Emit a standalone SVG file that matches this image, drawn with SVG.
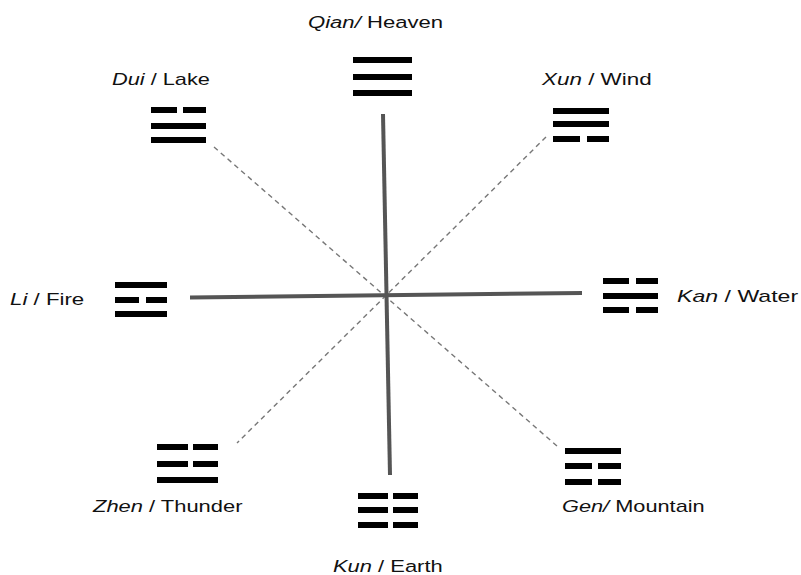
<svg xmlns="http://www.w3.org/2000/svg" width="801" height="575" viewBox="0 0 801 575">
<style>
.lbl{font-family:"Liberation Sans",Arial,sans-serif;font-size:17px;fill:#111}
.it{font-style:italic}
.bar{fill:#000}
.axis{stroke:#555;stroke-width:4;fill:none}
.diag{stroke:#777;stroke-width:1.4;stroke-dasharray:5 4;fill:none}
</style>
<rect width="801" height="575" fill="#fff"/>
<g id="connectors">
<line class="diag" x1="214" y1="147" x2="557" y2="446"/>
<line class="diag" x1="546" y1="137" x2="237" y2="443"/>
<line class="axis" x1="383" y1="114" x2="390" y2="475"/>
<line class="axis" x1="190" y1="297.5" x2="582" y2="293"/>
</g>
<g id="qian">
<text class="lbl" transform="translate(308 28) scale(1.3 1)"><tspan class="it">Qian/</tspan> Heaven</text>
<rect class="bar" x="353" y="57" width="59" height="6"/>
<rect class="bar" x="353" y="74" width="59" height="6"/>
<rect class="bar" x="353" y="90" width="59" height="6"/>
</g>
<g id="dui">
<text class="lbl" transform="translate(112 85) scale(1.28 1)"><tspan class="it">Dui</tspan> / Lake</text>
<rect class="bar" x="151" y="107" width="26" height="6"/>
<rect class="bar" x="183" y="107" width="23" height="6"/>
<rect class="bar" x="151" y="123" width="55" height="6"/>
<rect class="bar" x="151" y="137" width="55" height="6"/>
</g>
<g id="xun">
<text class="lbl" transform="translate(542 85) scale(1.32 1)"><tspan class="it">Xun</tspan> / Wind</text>
<rect class="bar" x="553" y="108" width="56" height="6"/>
<rect class="bar" x="553" y="121" width="56" height="6"/>
<rect class="bar" x="553" y="136" width="27" height="6"/>
<rect class="bar" x="587" y="136" width="22" height="6"/>
</g>
<g id="li">
<text class="lbl" transform="translate(10 305) scale(1.31 1)"><tspan class="it">Li</tspan> / Fire</text>
<rect class="bar" x="115" y="282" width="52" height="6"/>
<rect class="bar" x="115" y="297" width="24" height="6"/>
<rect class="bar" x="146" y="297" width="21" height="6"/>
<rect class="bar" x="115" y="311" width="52" height="6"/>
</g>
<g id="kan">
<text class="lbl" transform="translate(677 302) scale(1.36 1)"><tspan class="it">Kan</tspan> / Water</text>
<rect class="bar" x="603" y="278" width="26" height="6"/>
<rect class="bar" x="636" y="278" width="22" height="6"/>
<rect class="bar" x="603" y="293" width="55" height="6"/>
<rect class="bar" x="603" y="307" width="26" height="6"/>
<rect class="bar" x="636" y="307" width="22" height="6"/>
</g>
<g id="zhen">
<text class="lbl" transform="translate(93 512) scale(1.29 1)"><tspan class="it">Zhen</tspan> / Thunder</text>
<rect class="bar" x="157" y="444" width="31" height="6"/>
<rect class="bar" x="193" y="444" width="25" height="6"/>
<rect class="bar" x="157" y="461" width="31" height="6"/>
<rect class="bar" x="193" y="461" width="25" height="6"/>
<rect class="bar" x="157" y="477" width="61" height="6"/>
</g>
<g id="gen">
<text class="lbl" transform="translate(562 512) scale(1.28 1)"><tspan class="it">Gen/</tspan> Mountain</text>
<rect class="bar" x="565" y="448" width="56" height="6"/>
<rect class="bar" x="565" y="463" width="27" height="6"/>
<rect class="bar" x="598" y="463" width="23" height="6"/>
<rect class="bar" x="565" y="479" width="27" height="6"/>
<rect class="bar" x="598" y="479" width="23" height="6"/>
</g>
<g id="kun">
<text class="lbl" transform="translate(333 572) scale(1.29 1)"><tspan class="it">Kun</tspan> / Earth</text>
<rect class="bar" x="358" y="493" width="30" height="6"/>
<rect class="bar" x="393" y="493" width="25" height="6"/>
<rect class="bar" x="358" y="507" width="30" height="6"/>
<rect class="bar" x="393" y="507" width="25" height="6"/>
<rect class="bar" x="358" y="522" width="30" height="6"/>
<rect class="bar" x="393" y="522" width="25" height="6"/>
</g>
</svg>
